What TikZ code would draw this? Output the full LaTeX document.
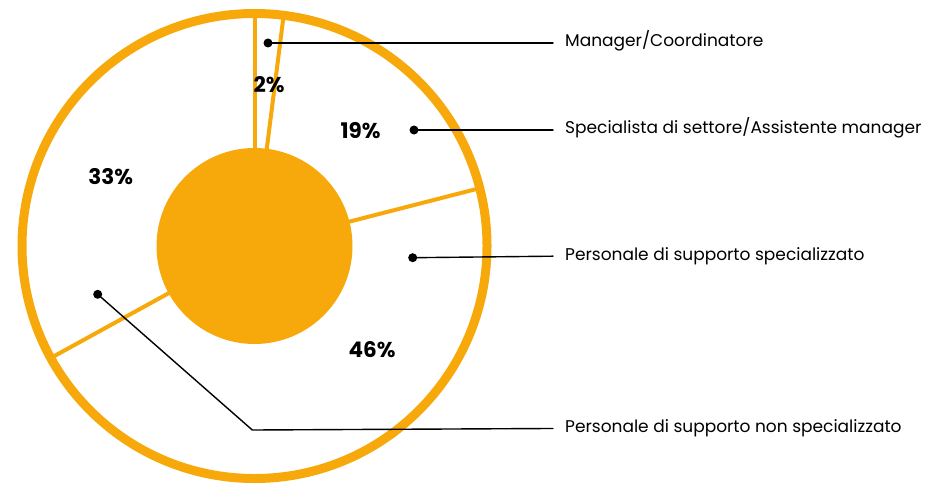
\documentclass[tikz,border=0pt]{standalone}
\usepackage{fontspec}
\setmainfont{Poppins}
\usepackage{tikz}
\usetikzlibrary{calc}
\definecolor{pieorange}{RGB}{247,169,11}

\begin{document}
\begin{tikzpicture}[line cap=round,line join=round,x=1pt,y=1pt,
        pct/.style={font=\fontsize{21.5}{25}\selectfont\bfseries},
        lab/.style={anchor=mid west,inner xsep=12pt,inner ysep=0pt,font=\fontsize{17}{20}\selectfont},
        piedot/.style={circle,fill=black,inner sep=0pt,minimum size=9pt},
        leader/.style={line width=1.4pt}]
        \useasboundingbox (0,0) rectangle (925,483);
        \coordinate (c) at (254.5,237);
        \fill [pieorange] (c) circle (98);
        \draw [pieorange,line width=9pt] (c) circle (232.5);
        \foreach \a in {90,82.8,14.4,208.8}
            \draw [pieorange,line width=4pt,line cap=butt] ($(c)+(\a:96)$) -- ($(c)+(\a:230)$);
        \node [pct] (pManager) at (269,398.5) {2\%};
        \node [pct] (pSpecialista) at (360.5,352) {19\%};
        \node [pct] (pSpec) at (372,133) {46\%};
        \node [pct] (pNon) at (110.7,306) {33\%};
        \node [piedot] (dManager) at (268,440) {};
        \node [piedot] (dSpecialista) at (414,353) {};
        \node [piedot] (dSpec) at (412.7,225.3) {};
        \node [piedot] (dNon) at (97.7,188.7) {};
        \coordinate (bend) at (252.3,53);
        \node [lab] (lManager) at (553,439) {Manager/Coordinatore};
        \node [lab] (lSpecialista) at (553,352.5) {Specialista di settore/Assistente manager};
        \node [lab] (lSpec) at (553,225.3) {Personale di supporto specializzato};
        \node [lab] (lNon) at (553,53) {Personale di supporto non specializzato};
        \draw [leader] (dManager.center) -- (dManager -| lManager.west);
        \draw [leader] (dSpecialista.center) -- (dSpecialista -| lSpecialista.west);
        \draw [leader] (dSpec.center) -- (lSpec.west);
        \draw [leader] (dNon.center) -- (bend) -- (lNon.west);
    \end{tikzpicture}
\end{document}
